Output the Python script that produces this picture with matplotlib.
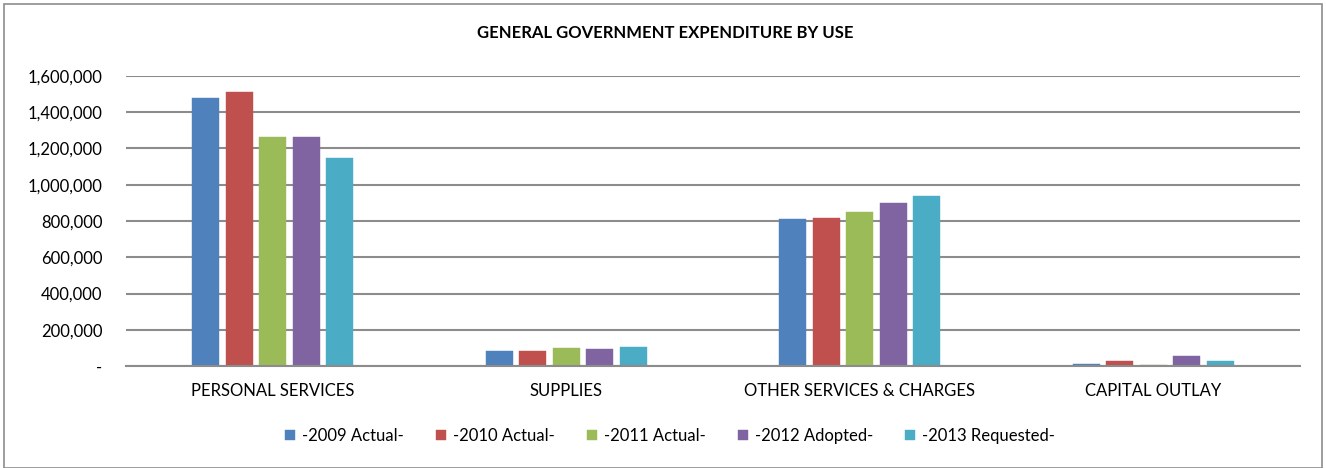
import matplotlib.pyplot as plt
from matplotlib.patches import Rectangle
from matplotlib.ticker import FuncFormatter
import numpy as np

plt.rcParams['font.family'] = ['Lato', 'DejaVu Sans']

categories = ['PERSONAL SERVICES', 'SUPPLIES', 'OTHER SERVICES & CHARGES', 'CAPITAL OUTLAY']
series = ['-2009 Actual-', '-2010 Actual-', '-2011 Actual-', '-2012 Adopted-', '-2013 Requested-']
colors = ['#4F81BD', '#C0504D', '#9BBB59', '#8064A2', '#4BACC6']

v2009 = [1477000, 83000, 809000, 13000]
v2010 = [1510000, 81000, 818000, 30000]
v2011 = [1262000, 100000, 851000, 5000]
v2012 = [1265000, 94000, 899000, 57000]
v2013 = [1147000, 104000, 940000, 30000]
values = [v2009, v2010, v2011, v2012, v2013]

W, H = 1326, 468
fig = plt.figure(figsize=(W / 100, H / 100), dpi=100)

# chart border
fig.patches.append(Rectangle((4 / W, 0), (W - 8) / W, (H - 4) / H, transform=fig.transFigure,
                             fill=False, edgecolor='#8c8c8c', linewidth=1.2))

left, right, top, bottom = 126, 1300, 76, 366
ax = fig.add_axes([left / W, 1 - bottom / H, (right - left) / W, (bottom - top) / H])

x = np.arange(len(categories))
width = 0.092
step = 0.1145
for i, (name, vals, c) in enumerate(zip(series, values, colors)):
    ax.bar(x + (i - 2) * step, vals, width, color=c, label=name,
           edgecolor=c, linewidth=0.3, zorder=3)

ax.set_xlim(-0.5, 3.5)
ax.set_ylim(0, 1600000)
ax.set_yticks(np.arange(0, 1600001, 200000))
ax.yaxis.set_major_formatter(FuncFormatter(lambda v, p: '-' if v == 0 else f'{int(v):,}'))
ax.set_xticks(x)
ax.set_xticklabels(categories)
ax.grid(axis='y', color='#8c8c8c', linewidth=1.5, zorder=0)
ax.tick_params(axis='both', length=0, labelsize=12, colors='black')
ax.tick_params(axis='y', pad=17)
ax.tick_params(axis='x', pad=12)
for s in ['top', 'right', 'left']:
    ax.spines[s].set_visible(False)
ax.spines['bottom'].set_color('#8c8c8c')
ax.spines['bottom'].set_linewidth(1.5)
ax.spines['bottom'].set_zorder(4)

fig.text(665 / W, 1 - 33 / H, 'GENERAL GOVERNMENT EXPENDITURE BY USE', ha='center', va='center',
         fontsize=12, fontweight='bold')

fig.legend(loc='center', bbox_to_anchor=(670 / W, 1 - 436 / H), ncol=5, frameon=False,
           fontsize=12, handlelength=0.6, handleheight=0.6, handletextpad=0.4, columnspacing=1.95)

fig.savefig('out.png', dpi=100)
